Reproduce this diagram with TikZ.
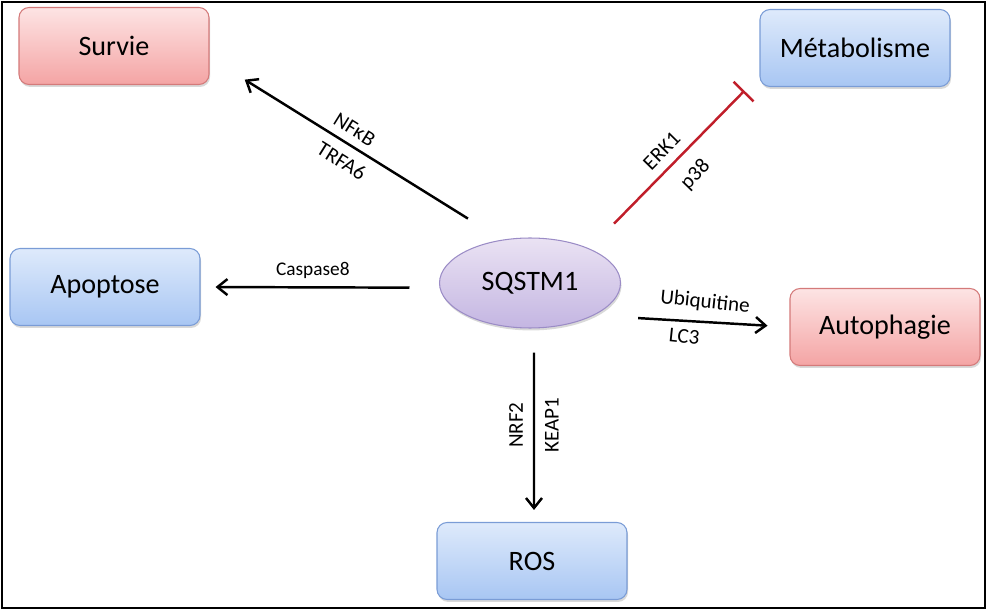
\documentclass[tikz,border=0pt]{standalone}
\usepackage{fontspec}
\setmainfont{Carlito}
\usetikzlibrary{arrows.meta,shapes.geometric,shadows}
\definecolor{redtop}{RGB}{253,228,228}
\definecolor{redbot}{RGB}{244,164,164}
\definecolor{redline}{RGB}{212,122,122}
\definecolor{bluetop}{RGB}{222,234,251}
\definecolor{bluebot}{RGB}{168,198,243}
\definecolor{blueline}{RGB}{122,156,214}
\definecolor{violtop}{RGB}{234,226,243}
\definecolor{violbot}{RGB}{196,182,226}
\definecolor{violline}{RGB}{155,140,198}
\definecolor{inhred}{RGB}{192,30,42}
\begin{document}
\begin{tikzpicture}[x=0.02cm,y=-0.02cm]
          \tikzstyle{every node}=[font=\fontsize{12}{14}\selectfont];
          \tikzstyle{box}=[rounded corners=0.2cm, line width=0.6pt, minimum width=3.8cm, minimum height=1.54cm,
            font=\fontsize{16}{19}\selectfont,
            drop shadow={shadow xshift=0.6pt, shadow yshift=-1.4pt, opacity=0.3}];
          \tikzstyle{redbox}=[box, draw=redline, top color=redtop, bottom color=redbot];
          \tikzstyle{bluebox}=[box, draw=blueline, top color=bluetop, bottom color=bluebot];
          \tikzstyle{arr}=[line width=1.4pt, -{Straight Barb[length=2mm,width=3.2mm]}];
          \tikzstyle{inh}=[line width=1.4pt, draw=inhred, -{Bar[width=5.6mm]}];
          \useasboundingbox (0,0) rectangle (988,611);
          \draw[line width=1.1pt] (2,2) rectangle (985,608);
          % centre
          \node[ellipse, draw=violline, line width=0.6pt, top color=violtop, bottom color=violbot,
            minimum width=3.62cm, minimum height=1.8cm, inner sep=0pt,
            font=\fontsize{16}{19}\selectfont,
            drop shadow={shadow xshift=0.6pt, shadow yshift=-1.4pt, opacity=0.3}] (sqstm) at (530,283) {SQSTM1};
          % effets
          \node[redbox] (survie) at (114,46) {Survie};
          \node[bluebox] (metab) at (855,48) {Métabolisme};
          \node[bluebox] (apop) at (105,287) {Apoptose};
          \node[redbox] (autop) at (885,327) {Autophagie};
          \node[bluebox] (ros) at (532,561) {ROS};
          % voies
          \draw[arr, shorten <=0.8cm, shorten >=0.83cm] (sqstm.123) -- (survie.-7)
            node[pos=0.532, sloped, above=1pt] {NFκB}
            node[pos=0.516, sloped, below=2pt] {TRFA6};
          \draw[inh, shorten <=0.7cm, shorten >=0.43cm] (sqstm.30) -- (metab.196)
            node[pos=0.495, sloped, above=1.7pt] {ERK1}
            node[pos=0.523, sloped, below=4.5pt] {p38};
          \draw[arr, shorten <=0.6cm, shorten >=0.3cm] (sqstm.-177) -- (apop.east)
            node[pos=0.53, above=1pt, font=\fontsize{11}{13}\selectfont] {Caspase8};
          \draw[arr, shorten <=0.89cm, shorten >=0.44cm] (sqstm.-27) -- (autop.west)
            node[pos=0.56, above=2pt, rotate=-6] {Ubiquitine}
            node[pos=0.47, below=1pt, rotate=-6] {LC3};
          \draw[arr, shorten <=0.48cm, shorten >=0.24cm] ([xshift=0.08cm]sqstm.south) -- ([xshift=0.04cm]ros.north)
            node[midway, rotate=90, anchor=south, outer sep=3pt] {NRF2}
            node[midway, rotate=90, anchor=north, outer sep=3pt] {KEAP1};
\end{tikzpicture}
\end{document}
